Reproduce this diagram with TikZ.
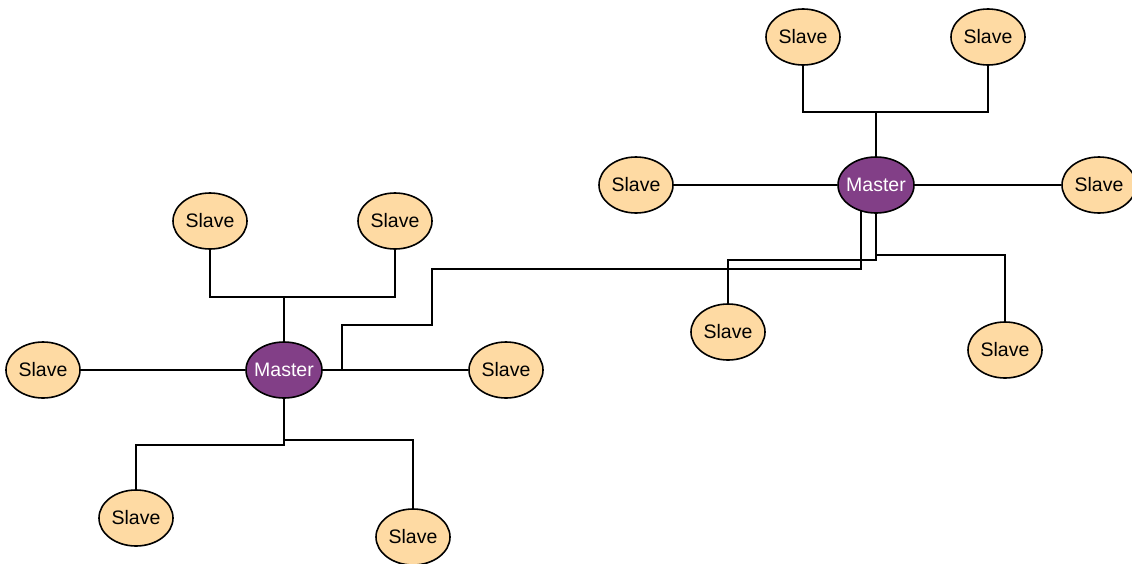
\documentclass[tikz,border=0pt]{standalone}
\usepackage{fontspec}
\setmainfont{Liberation Sans}
\usepackage{tikz}
\usetikzlibrary{shapes,backgrounds}
\definecolor{slavecolor}{RGB}{254,218,163}
\definecolor{mastercolor}{RGB}{130,63,135}

\begin{document}
\begin{tikzpicture}[x=1pt,y=-1pt,line width=1.6pt]
 \tikzstyle{slave}=[ellipse,draw,fill=slavecolor,minimum width=74pt,minimum height=56pt,inner sep=0pt,font=\fontsize{19.5}{22}\selectfont]
 \tikzstyle{master}=[slave,fill=mastercolor,text=white,minimum width=76pt,inner xsep=-5pt]
 \tikzstyle{wire}=[draw,line width=1.6pt]
 \useasboundingbox (0,0) rectangle (1132,563);

   % left master and its slaves
   \node[master] (m1) at (284,370) {Master};
   \node[slave] (s1) at (210,221) {Slave};
   \node[slave] (s2) at (395,221) {Slave};
   \node[slave] (s3) at (43,370) {Slave};
   \node[slave] (s4) at (506,370) {Slave};
   \node[slave] (s5) at (136,518) {Slave};
   \node[slave] (s6) at (413,537) {Slave};

   % right master and its slaves
   \node[master] (m2) at (876,185) {Master};
   \node[slave] (s7) at (803,37) {Slave};
   \node[slave] (s8) at (988,37) {Slave};
   \node[slave] (s9) at (636,185) {Slave};
   \node[slave] (s10) at (1099,185) {Slave};
   \node[slave] (s11) at (728,332) {Slave};
   \node[slave] (s12) at (1005,350) {Slave};

   \coordinate (j1) at (284,297);
   \coordinate (j2) at (284,445);
   \coordinate (j3) at (284,440);
   \coordinate (j4) at (876,112);
   \coordinate (j5) at (876,255);
   \coordinate (j6) at (876,260);
   \coordinate (k1) at (432,269);
   \coordinate (k2) at (342,325);
   \coordinate (k3) at (342,370);

 \begin{scope}[on background layer,every path/.style=wire]
   \path (m1) -- (j1);
   \path (s1) |- (j1) -| (s2);
   \path (s3) -- (m1) -- (s4);
   \path (m1) -- (j2) -| (s5);
   \path (j3) -| (s6);

   \path (m2) -- (j4);
   \path (s7) |- (j4) -| (s8);
   \path (s9) -- (m2) -- (s10);
   \path (m2) -- (j6) -| (s11);
   \path (j5) -| (s12);

   \path ([xshift=-15pt]m2.center) |- (k1) |- (k2) -- (k3);
 \end{scope}

\end{tikzpicture}
\end{document}
